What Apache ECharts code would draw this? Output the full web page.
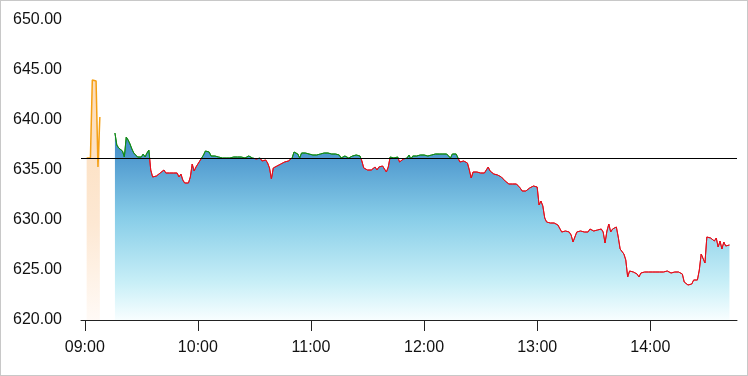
<!DOCTYPE html>
<html>
<head>
<meta charset="utf-8">
<script src="https://cdn.jsdelivr.net/npm/echarts@6/dist/echarts.min.js"></script>
<style>
  html, body { margin: 0; padding: 0; background: #fff; }
  #wrap { position: relative; width: 748px; height: 376px; }
  #chart { position: absolute; left: 0; top: 0; width: 748px; height: 376px; }
  #frame { position: absolute; left: 0; top: 0; width: 748px; height: 376px;
           box-sizing: border-box; border: 1px solid #c8c8c8; pointer-events: none; }
</style>
</head>
<body>
<div id="wrap">
  <div id="chart"></div>
  <div id="frame"></div>
</div>
<script>
// x axis tick labels
const hourLabels = ['09:00', '10:00', '11:00', '12:00', '13:00', '14:00'];

// previous close (black reference line)
const prevClose = 636.2;

// pre-open auction prices, one per minute
const preTimes = ['09:01', '09:02', '09:03', '09:04', '09:05', '09:06', '09:07', '09:08'];
const preValues = [636.2, 636.2, 636.2, 644.0, 644.0, 643.9, 635.3, 640.3];

// regular session, one price per minute starting at mainStart
const mainStart = '09:16';
const mainValues = [
    638.7, 637.5, 637.2, 637.1, 636.9, 636.3, 638.3, 638.0, 637.6, 637.1,
    636.7, 636.5, 636.3, 636.5, 636.3, 636.6, 636.3, 636.7, 637.0, 635.0,
    634.3, 634.5, 634.4, 634.6, 634.7, 634.6, 635.0, 634.7, 634.8, 634.7,
    634.5, 634.7, 634.5, 634.7, 634.3, 634.6, 634.0, 633.7, 633.6, 633.7,
    634.3, 635.6, 634.9, 635.3, 635.4, 635.9, 636.2, 636.5, 636.9, 637.0,
    636.8, 636.4, 636.2, 636.4, 636.2, 636.3, 636.4, 636.2, 636.4, 636.2,
    636.2, 636.2, 636.3, 636.3, 636.4, 636.3, 636.4, 636.3, 636.2, 636.2,
    636.3, 636.4, 636.3, 636.2, 636.3, 636.1, 636.3, 636.2, 635.9, 635.8,
    636.0, 635.7, 635.2, 634.1, 635.2, 635.3, 635.4, 635.6, 635.6, 635.7,
    635.8, 635.9, 635.9, 636.0, 636.2, 636.8, 636.8, 636.6, 636.2, 636.7,
    636.8, 636.7, 636.8, 636.6, 636.6, 636.5, 636.5, 636.5, 636.6, 636.6,
    636.7, 636.7, 636.6, 636.7, 636.7, 636.6, 636.7, 636.6, 636.5, 636.5,
    636.2, 636.4, 636.4, 636.3, 636.2, 636.0, 636.4, 636.2, 636.5, 636.5,
    636.4, 635.9, 635.2, 635.0, 635.0, 635.1, 635.0, 634.9, 635.3, 635.0,
    635.3, 635.4, 635.4, 635.3, 634.8, 635.3, 636.3, 636.3, 636.2, 636.4,
    636.3, 635.8, 635.9, 636.1, 636.3, 636.2, 636.5, 636.1, 636.4, 636.5,
    636.4, 636.5, 636.5, 636.5, 636.5, 636.6, 636.4, 636.2, 636.5, 636.6,
    636.6, 636.6, 636.6, 636.6, 636.6, 636.6, 636.6, 636.5, 636.2, 636.6,
    636.6, 636.6, 636.4, 635.8, 635.9, 635.9, 635.8, 635.7, 635.0, 634.2,
    634.8, 634.8, 634.8, 634.7, 634.7, 634.7, 634.7, 634.9, 635.3, 634.9,
    634.9, 634.6, 634.7, 634.5, 634.4, 634.3, 634.1, 633.9, 633.7, 633.6,
    633.8, 633.6, 633.6, 633.6, 633.5, 633.2, 632.9, 632.9, 632.9, 633.0,
    633.2, 633.4, 633.4, 633.4, 633.3, 631.5, 631.9, 631.4, 630.2, 629.8,
    629.7, 629.7, 629.7, 629.7, 629.6, 629.5, 629.3, 628.8, 629.0, 628.9,
    628.9, 628.8, 628.5, 627.8, 628.3, 628.8, 628.9, 628.9, 628.9, 628.8,
    628.6, 628.8, 629.1, 629.3, 628.9, 628.7, 629.0, 629.1, 629.1, 628.8,
    627.7, 628.9, 629.6, 628.8, 629.1, 629.2, 629.3, 628.3, 627.1, 627.0,
    626.6, 626.0, 624.3, 624.9, 624.9, 624.8, 624.7, 624.6, 624.3, 624.7,
    624.9, 624.8, 624.9, 624.8, 624.8, 624.8, 624.8, 624.8, 624.8, 624.8,
    624.9, 624.8, 624.6, 624.9, 624.8, 624.7, 624.9, 624.8, 624.6, 624.8,
    624.8, 624.6, 623.8, 623.6, 623.5, 623.4, 623.6, 624.0, 624.0, 624.0,
    625.0, 626.6, 626.4, 625.7, 628.3, 628.3, 628.2, 628.1, 627.9, 628.2,
    627.3, 627.9, 627.1, 627.8, 627.4, 627.6, 627.5
];

const upColor = '#128a16';
const downColor = '#e3101c';

const toMin = (t) => {
    const [h, m] = t.split(':').map(Number);
    return h * 60 + m;
};
const fmtMin = (v) => {
    const h = Math.floor(v / 60);
    const m = v % 60;
    return String(h).padStart(2, '0') + ':' + String(m).padStart(2, '0');
};

const hourTicks = hourLabels.map(toMin);
const preData = preTimes.map((t, i) => [toMin(t), preValues[i]]);
const mainData = mainValues.map((v, i) => [toMin(mainStart) + i, v]);

const el = document.getElementById('chart');
const chart = echarts.init(el);

const option = {
    animation: false,
    textStyle: { fontFamily: 'Liberation Sans, Arial, sans-serif' },
    grid: { left: 81, right: 11, top: 20, bottom: 56 },
    xAxis: {
        type: 'value',
        min: toMin('08:58'),
        max: toMin('14:46'),
        splitLine: { show: false },
        axisLine: { lineStyle: { color: '#222', width: 1 } },
        axisTick: { show: true, inside: false, length: 11, customValues: hourTicks, lineStyle: { color: '#222' } },
        axisLabel: {
            customValues: hourTicks,
            formatter: (v) => fmtMin(v),
            color: '#111',
            fontSize: 16,
            margin: 20,
        },
    },
    yAxis: {
        type: 'value',
        min: 620,
        max: 650,
        interval: 5,
        splitLine: { show: false },
        axisLine: { show: false },
        axisTick: { show: false },
        axisLabel: {
            formatter: (v) => v.toFixed(2),
            color: '#111',
            fontSize: 16,
            margin: 19,
        },
    },
    series: [
        {
            name: 'pre',
            type: 'line',
            data: preData,
            symbol: 'none',
            lineStyle: { color: '#f5a015', width: 1.5 },
            areaStyle: {
                origin: 'start',
                color: new echarts.graphic.LinearGradient(0, 0, 0, 1, [
                    { offset: 0, color: '#fcdcb8' },
                    { offset: 0.6, color: '#fde8d3' },
                    { offset: 1, color: '#fffaf6' },
                ]),
                opacity: 1,
            },
            z: 2,
        },
        {
            name: 'price',
            type: 'line',
            data: mainData,
            symbol: 'none',
            lineStyle: { width: 1, color: downColor },
            areaStyle: {
                origin: 'start',
                color: new echarts.graphic.LinearGradient(0, 0, 0, 1, [
                    { offset: 0, color: '#3a85c5' },
                    { offset: 0.45, color: '#87cde8' },
                    { offset: 0.8, color: '#c8eff7' },
                    { offset: 1, color: '#f8feff' },
                ]),
                opacity: 1,
            },
            markLine: {
                silent: true,
                symbol: 'none',
                label: { show: false },
                lineStyle: { color: '#000', width: 1, type: 'solid' },
                data: [{ yAxis: prevClose }],
            },
            z: 3,
        },
    ],
};

chart.setOption(option);

// colour the price line green above the previous close, red below it
const baseY = chart.convertToPixel({ yAxisIndex: 0 }, prevClose);
const h = el.clientHeight;
const f = baseY / h;
chart.setOption({
    series: [{}, {
        lineStyle: {
            color: new echarts.graphic.LinearGradient(0, 0, 0, h, [
                { offset: 0, color: upColor },
                { offset: f, color: upColor },
                { offset: f, color: downColor },
                { offset: 1, color: downColor },
            ], true),
        },
    }],
});
</script>
</body>
</html>
